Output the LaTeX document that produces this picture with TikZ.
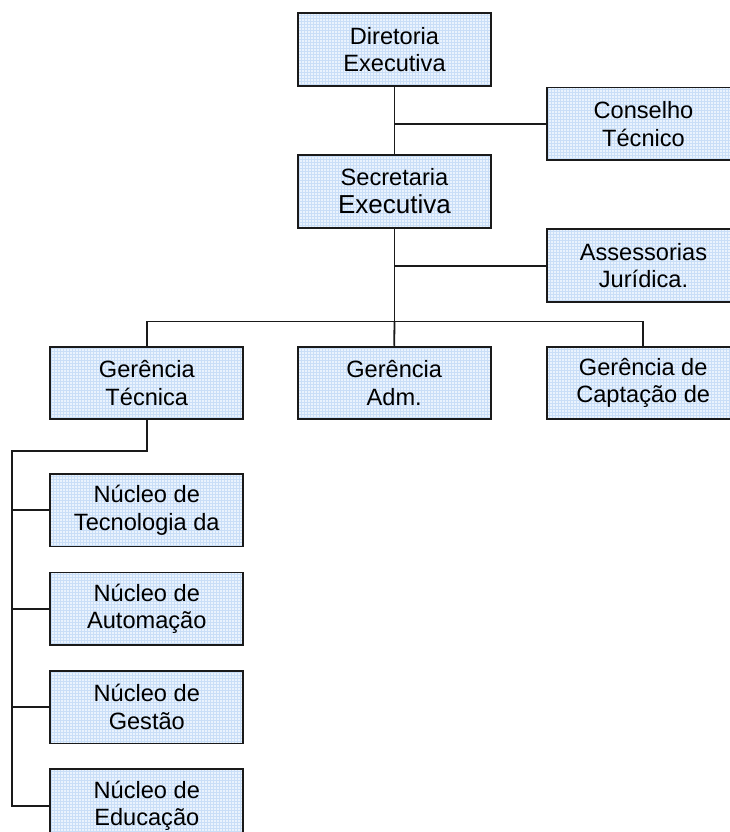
\documentclass[tikz,border=0pt]{standalone}
\usepackage{fontspec}
\setmainfont{Liberation Sans}
\definecolor{boxfill}{HTML}{EAF3FD}
\definecolor{gridc}{HTML}{C9DEF7}
\definecolor{linec}{HTML}{1A1A1A}
\begin{document}
\begin{tikzpicture}[x=1pt,y=-1pt,
  box/.style={draw=linec, line width=1.8pt, fill=boxfill,
    minimum width=193pt, minimum height=72.7pt, inner sep=0pt,
    align=center, font=\fontsize{23.6}{27.6}\selectfont,
    path picture={\draw[gridc, line width=0.7pt, step=3pt]
      (path picture bounding box.south west) grid (path picture bounding box.north east);}},
  link/.style={line width=1.8pt, draw=linec}]
\useasboundingbox (0,0) rectangle (730,832);

% nodes
\node[box] (dir) at (394.5,49.7) {Diretoria\\Executiva};
\node[box] (con) at (643.5,123.8) {Conselho\\Técnico};
\node[box] (sec) at (394.5,191.3) {Secretaria\\{\fontsize{26}{28}\selectfont Executiva}};
\node[box] (ass) at (643.5,265.7) {Assessorias\\Jurídica.};
\node[box] (gt) at (146.8,383) {Gerência\\Técnica};
\node[box] (ga) at (394.2,383) {Gerência\\Adm.};
\node[box] (gc) at (643.2,383) {Gerência de\\Captação de};
\node[box] (nti) at (146.8,510.2) {Núcleo de\\Tecnologia da};
\node[box] (na) at (146.8,608.8) {Núcleo de\\Automação};
\node[box] (ng) at (146.8,707.2) {Núcleo de\\Gestão};
\node[box] (ne) at (146.8,805.7) {Núcleo de\\Educação};

% connectors
\draw[link] (dir.south) -- (sec.north);
\draw[link] (dir.south |- con.west) -- (con.west);
\path (sec.south) ++(0,93) coordinate (bus);
\draw[link] (sec.south) -- (bus);
\draw[link] (sec.south |- ass.west) -- (ass.west);
\draw[link] (gt.north) |- (bus) -| (gc.north);
\draw[link] (bus) -- (ga.north);
\coordinate (tl) at (11.7,451);
\draw[link] (gt.south) |- (tl) -- (tl |- ne.west) -- (ne.west);
\draw[link] (tl |- nti.west) -- (nti.west);
\draw[link] (tl |- na.west) -- (na.west);
\draw[link] (tl |- ng.west) -- (ng.west);
\end{tikzpicture}
\end{document}
